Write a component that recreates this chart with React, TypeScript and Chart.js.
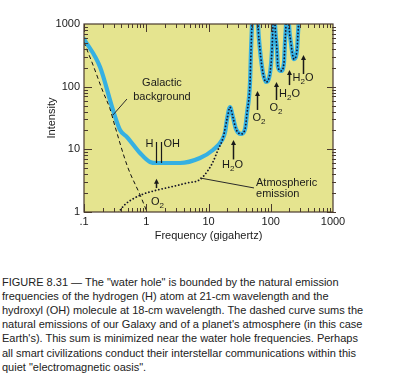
import React, { useEffect, useRef } from "react";
import { Chart, registerables } from "chart.js";

Chart.register(...registerables);

// ---------- axis ticks ----------
const xTicks = [0.1, 1, 10, 100, 1000];
const xTickLabels = [".1", "1", "10", "100", "1000"];
const yTicks = [1, 10, 100, 1000];
const yTickLabels = ["1", "10", "100", "1000"];

// ---------- total (galactic + atmospheric) curve, blue ----------
const totalFreq = [
  0.1, 0.181, 0.292, 0.379, 0.491, 0.794, 1.148, 1.489, 3.49, 7.3, 11.8, 16.5,
  18.5, 19.8, 22.2, 24.8, 27.7, 33.3, 38.6, 41.6, 46.4, 48.2, 50, 53, 58, 62.4,
  67.2, 75.1, 83.9, 97.3, 104.7, 108.7, 113, 117, 126, 130.7, 146, 163, 169,
  176, 185, 196, 211, 228, 236, 264, 274, 280, 300,
];
const totalIntensity = [
  577, 206, 42.4, 20.4, 15.7, 8.74, 6.28, 6.05, 6.05, 7.27, 9.76, 14.1,
  19, 30, 47, 32, 21, 17.6, 21, 38, 115, 384, 1000, 3000, 10000, 1000,
  384, 165, 119, 165, 384, 1000, 3000, 1000, 384, 206, 178, 239, 498,
  1000, 5000, 1000, 498, 298, 276, 384, 718, 1000, 3000,
];

// ---------- galactic background, dashed ----------
const galacticFreq = [0.1, 0.14, 0.2, 0.26, 0.32, 0.5, 0.8, 1.03, 1.2];
const galacticIntensity = [510, 220, 85, 45, 22, 5.3, 1.85, 1.0, 0.7];

// ---------- atmospheric emission, dotted ----------
const atmosFreq = [
  0.3, 0.365, 0.45, 0.6, 0.85, 1.28, 2.41, 4.52, 7.3, 9.8, 11.8, 14.2, 17.1,
  19.8, 22.2, 24.8, 27.7, 33.3, 38.6, 41.6, 46.4, 48.2, 50, 53, 58, 62.4,
  67.2, 75.1, 83.9, 97.3, 104.7, 108.7, 113, 117, 126, 130.7, 146, 163, 169,
  176, 185, 196, 211, 228, 236, 264, 274, 280, 300,
];
const atmosIntensity = [
  0.7, 1.0, 1.3, 1.6, 1.9, 2.15, 2.5, 2.9, 3.3, 4.6, 6.3, 9.8, 15.2,
  30, 47, 32, 21, 17.6, 21, 38, 115, 384, 1000, 3000, 10000, 1000,
  384, 165, 119, 165, 384, 1000, 3000, 1000, 384, 206, 178, 239, 498,
  1000, 5000, 1000, 498, 298, 276, 384, 718, 1000, 3000,
];

// ---------- annotations (data units) ----------
const specLineFreq = [1.42, 1.72];
const specLineLabel = ["H", "OH"];
const specLineTop = 13.1;
const specLineBottom = 6.05;
const specLabelY = 12.2;

const arrowFreq = [1.44, 24.9, 60, 121, 196, 330];
const arrowBase = [2.41, 6.9, 42.5, 61.2, 106, 159];
const arrowTip = [3.4, 14.1, 85.3, 119, 185, 320];
const arrowLabel = ["O2", "H2O", "O2", "O2", "H2O", "H2O"];
const arrowLabelFreq = [1.52, 24.3, 64.7, 121, 200, 330];
const arrowLabelY = [1.45, 5.62, 31.6, 45.7, 76.4, 137];

const galacticText = ["Galactic", "background"];
const galacticTextFreq = 1.79;
const galacticTextY = [114, 68];
const galacticLeader = [
  [0.292, 35.3],
  [0.49, 63.5],
];

const atmosText = ["Atmospheric", "emission"];
const atmosTextFreq = 58;
const atmosTextY = [2.9, 1.94];
const atmosLeader = [
  [7.3, 3.49],
  [53.8, 2.42],
];

const caption = [
  'FIGURE 8.31 \u2014 The "water hole" is bounded by the natural emission',
  "frequencies of the hydrogen (H) atom at 21-cm wavelength and the",
  "hydroxyl (OH) molecule at 18-cm wavelength. The dashed curve sums the",
  "natural emissions of our Galaxy and of a planet's atmosphere (in this case",
  "Earth's). This sum is minimized near the water hole frequencies. Perhaps",
  "all smart civilizations conduct their interstellar communications within this",
  'quiet "electromagnetic oasis".',
];

const FONT = '"Liberation Sans", Arial, Helvetica, sans-serif';
const INK = "#1a1a1a";

function drawChem(ctx: CanvasRenderingContext2D, label: string, cx: number, cy: number, align: string) {
  const parts = label.split("").map((ch) => ({ ch, sub: /[0-9]/.test(ch) }));
  const mainFont = `11px ${FONT}`;
  const subFont = `8px ${FONT}`;
  let total = 0;
  const widths = parts.map((p) => {
    ctx.font = p.sub ? subFont : mainFont;
    const w = ctx.measureText(p.ch).width;
    total += w;
    return w;
  });
  let x = align === "center" ? cx - total / 2 : align === "right" ? cx - total : cx;
  ctx.textAlign = "left";
  ctx.textBaseline = "middle";
  parts.forEach((p, i) => {
    ctx.font = p.sub ? subFont : mainFont;
    ctx.fillText(p.ch, x, p.sub ? cy + 3.5 : cy);
    x += widths[i];
  });
}

const decor = {
  id: "decor",
  beforeDraw(chart: any) {
    const { ctx, chartArea: a } = chart;
    ctx.save();
    ctx.fillStyle = "#e5e48f";
    ctx.fillRect(a.left, a.top, a.right - a.left, a.bottom - a.top);
    ctx.restore();
  },
  afterDatasetsDraw(chart: any) {
    const { ctx } = chart;
    const xs = chart.scales.x;
    const ys = chart.scales.y;
    const X = (v: number) => xs.getPixelForValue(v);
    const Y = (v: number) => ys.getPixelForValue(v);
    ctx.save();
    ctx.fillStyle = INK;
    ctx.strokeStyle = INK;

    // spectral lines H / OH
    ctx.lineWidth = 1.2;
    specLineFreq.forEach((f, i) => {
      const px = Math.round(X(f)) + 0.5;
      ctx.beginPath();
      ctx.moveTo(px, Y(specLineTop));
      ctx.lineTo(px, Y(specLineBottom));
      ctx.stroke();
      ctx.font = `11px ${FONT}`;
      ctx.textBaseline = "middle";
      ctx.textAlign = i === 0 ? "right" : "left";
      ctx.fillText(specLineLabel[i], i === 0 ? px - 3 : px + 2, Y(specLabelY));
    });

    // arrows
    arrowFreq.forEach((f, i) => {
      const px = Math.round(X(f)) + 0.5;
      const yb = Y(arrowBase[i]);
      const yt = Y(arrowTip[i]);
      ctx.lineWidth = 1.5;
      ctx.beginPath();
      ctx.moveTo(px, yb);
      ctx.lineTo(px, yt + 4);
      ctx.stroke();
      ctx.beginPath();
      ctx.moveTo(px, yt);
      ctx.lineTo(px - 2.5, yt + 5);
      ctx.lineTo(px + 2.5, yt + 5);
      ctx.closePath();
      ctx.fill();
      drawChem(ctx, arrowLabel[i], X(arrowLabelFreq[i]), Y(arrowLabelY[i]), "center");
    });

    // leaders
    ctx.lineWidth = 1;
    ctx.strokeStyle = "#2a2a2a";
    [galacticLeader, atmosLeader].forEach((seg) => {
      ctx.beginPath();
      ctx.moveTo(X(seg[0][0]), Y(seg[0][1]));
      ctx.lineTo(X(seg[1][0]), Y(seg[1][1]));
      ctx.stroke();
    });

    // texts
    ctx.font = `11px ${FONT}`;
    ctx.textBaseline = "middle";
    ctx.textAlign = "center";
    galacticText.forEach((t, i) => ctx.fillText(t, X(galacticTextFreq), Y(galacticTextY[i])));
    ctx.textAlign = "left";
    atmosText.forEach((t, i) => ctx.fillText(t, X(atmosTextFreq), Y(atmosTextY[i])));
    ctx.restore();
  },
  afterDraw(chart: any) {
    const { ctx, chartArea: a } = chart;
    const xs = chart.scales.x;
    const ys = chart.scales.y;
    ctx.save();
    ctx.strokeStyle = "#4a3a2e";
    ctx.lineWidth = 1.2;
    ctx.strokeRect(a.left, a.top, a.right - a.left, a.bottom - a.top);
    ctx.lineWidth = 1;
    for (let d = -1; d <= 2; d++) {
      for (let m = 1; m <= 9; m++) {
        const v = m * Math.pow(10, d);
        const px = Math.round(xs.getPixelForValue(v)) + 0.5;
        const len = m === 1 ? 8 : 4;
        ctx.beginPath();
        ctx.moveTo(px, a.bottom);
        ctx.lineTo(px, a.bottom - len);
        ctx.moveTo(px, a.top);
        ctx.lineTo(px, a.top + len);
        ctx.stroke();
      }
    }
    for (let d = 0; d <= 2; d++) {
      for (let m = 1; m <= 9; m++) {
        const v = m * Math.pow(10, d);
        const py = Math.round(ys.getPixelForValue(v)) + 0.5;
        const len = m === 1 ? 8 : 4;
        ctx.beginPath();
        ctx.moveTo(a.left, py);
        ctx.lineTo(a.left + len, py);
        ctx.moveTo(a.right - (m === 1 ? 6 : 1), py);
        ctx.lineTo(a.right + 3, py);
        ctx.stroke();
      }
    }
    ctx.restore();
  },
};

export default function App() {
  const ref = useRef<HTMLCanvasElement>(null);

  useEffect(() => {
    const canvas = ref.current!;
    const pts = (xs: number[], ys: number[]) => xs.map((x, i) => ({ x, y: ys[i] }));
    const labelFor = (vals: number[], labels: string[]) => (v: any) => {
      const n = Number(v);
      const i = vals.findIndex((t) => Math.abs(t - n) / t < 1e-6);
      return i >= 0 ? labels[i] : "";
    };
    const chart = new Chart(canvas, {
      type: "scatter",
      data: {
        datasets: [
          {
            label: "Atmospheric emission",
            data: pts(atmosFreq, atmosIntensity),
            showLine: true,
            borderColor: "#141428",
            borderWidth: 1.8,
            borderDash: [0.01, 3.4],
            borderCapStyle: "round",
            pointRadius: 0,
            cubicInterpolationMode: "monotone",
            order: 1,
          },
          {
            label: "Galactic background",
            data: pts(galacticFreq, galacticIntensity),
            showLine: true,
            borderColor: "#111111",
            borderWidth: 1,
            borderDash: [4, 3],
            pointRadius: 0,
            cubicInterpolationMode: "monotone",
            order: 2,
          },
          {
            label: "Total",
            data: pts(totalFreq, totalIntensity),
            showLine: true,
            borderColor: "#35b0e2",
            borderWidth: 4.2,
            borderCapStyle: "round",
            borderJoinStyle: "round",
            pointRadius: 0,
            cubicInterpolationMode: "monotone",
            order: 3,
          },
        ],
      } as any,
      options: {
        responsive: false,
        animation: false,
        events: [],
        layout: { padding: { left: 0, right: 60, top: 24, bottom: 0 } },
        plugins: { legend: { display: false }, tooltip: { enabled: false } },
        scales: {
          x: {
            type: "logarithmic",
            min: 0.1,
            max: 1000,
            grid: { display: false, drawTicks: false },
            border: { display: false },
            afterBuildTicks: (s: any) => {
              s.ticks = xTicks.map((v) => ({ value: v }));
            },
            afterFit: (s: any) => {
              s.height = 50;
            },
            ticks: {
              autoSkip: false,
              maxRotation: 0,
              padding: 3,
              color: INK,
              font: { family: FONT, size: 11 },
              callback: labelFor(xTicks, xTickLabels),
            },
            title: {
              display: true,
              text: "Frequency (gigahertz)",
              color: INK,
              font: { family: FONT, size: 11 },
              padding: { top: 0, bottom: 19 },
            },
          },
          y: {
            type: "logarithmic",
            min: 1,
            max: 1000,
            grid: { display: false, drawTicks: false },
            border: { display: false },
            afterBuildTicks: (s: any) => {
              s.ticks = yTicks.map((v) => ({ value: v }));
            },
            afterFit: (s: any) => {
              s.width = 84;
            },
            ticks: {
              autoSkip: false,
              padding: 4,
              color: INK,
              font: { family: FONT, size: 11 },
              callback: labelFor(yTicks, yTickLabels),
            },
            title: {
              display: true,
              text: "Intensity",
              color: INK,
              font: { family: FONT, size: 11 },
              padding: { top: 45, bottom: 0 },
            },
          },
        },
      } as any,
      plugins: [decor],
    });
    return () => chart.destroy();
  }, []);

  return (
    <div style={{ position: "fixed", left: 0, top: 0, width: 393, height: 374, background: "#ffffff", overflow: "hidden" }}>
      <canvas ref={ref} width={393} height={262} style={{ position: "absolute", left: 0, top: 0, width: 393, height: 262 }} />
      <div
        style={{
          position: "absolute",
          left: 2,
          top: 274.6,
          fontFamily: FONT,
          fontSize: 11,
          lineHeight: "14.2px",
          color: "#222222",
          whiteSpace: "pre",
        }}
      >
        {caption.join("\n")}
      </div>
    </div>
  );
}
